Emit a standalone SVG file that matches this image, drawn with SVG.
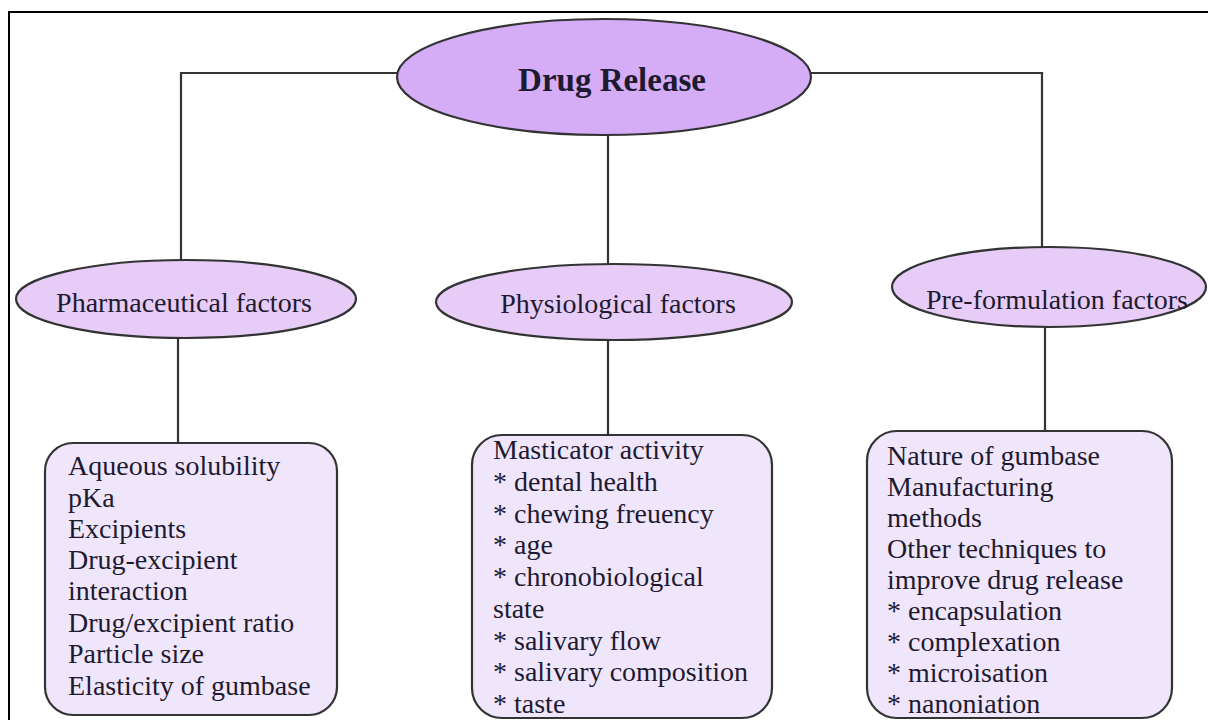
<svg xmlns="http://www.w3.org/2000/svg" width="1208" height="720" viewBox="0 0 1208 720">
<style>
.bg{fill:#ffffff}
.frame{fill:none;stroke:#000;stroke-width:2}
.conn{fill:none;stroke:#333;stroke-width:2.2}
.main{fill:#D5ADF7;stroke:#333;stroke-width:2.2}
.sub{fill:#E6CCF7;stroke:#333;stroke-width:2.2}
.box{fill:#F0E6FC;stroke:#333;stroke-width:2.2}
text{font-family:"Liberation Serif","Times New Roman",serif;fill:#1e1a30}
.t-main{font-size:33px;font-weight:bold;text-anchor:middle}
.t-sub{font-size:28px;text-anchor:middle}
.t-box{font-size:28px}
</style>
<rect class="bg" x="0" y="0" width="1208" height="720"/>
<path class="frame" d="M9,720 V12 H1208"/>
<g id="connectors">
<path class="conn" d="M181,260 V73 H397"/>
<path class="conn" d="M810,73 H1042 V248"/>
<path class="conn" d="M608,135 V264"/>
<path class="conn" d="M178,338 V443"/>
<path class="conn" d="M608,340 V435"/>
<path class="conn" d="M1045,327 V431"/>
</g>
<g id="drug-release">
<ellipse class="main" cx="604" cy="77" rx="207" ry="58"/>
<text class="t-main" x="612" y="91">Drug Release</text>
</g>
<g id="pharmaceutical-factors">
<ellipse class="sub" cx="186" cy="299" rx="170" ry="39"/>
<text class="t-sub" x="184" y="312">Pharmaceutical factors</text>
</g>
<g id="physiological-factors">
<ellipse class="sub" cx="614" cy="302" rx="178" ry="38"/>
<text class="t-sub" x="618" y="313">Physiological factors</text>
</g>
<g id="pre-formulation-factors">
<ellipse class="sub" cx="1049" cy="287" rx="157" ry="40"/>
<text class="t-sub" x="1057" y="309">Pre-formulation factors</text>
</g>
<g id="pharmaceutical-list">
<rect class="box" x="45" y="443" width="292" height="272" rx="28"/>
<text class="t-box" x="68" y="475">Aqueous solubility</text>
<text class="t-box" x="68" y="507">pKa</text>
<text class="t-box" x="68" y="538">Excipients</text>
<text class="t-box" x="68" y="569">Drug-excipient</text>
<text class="t-box" x="68" y="600">interaction</text>
<text class="t-box" x="68" y="632">Drug/excipient ratio</text>
<text class="t-box" x="68" y="663">Particle size</text>
<text class="t-box" x="68" y="695">Elasticity of gumbase</text>
</g>
<g id="physiological-list">
<rect class="box" x="472" y="435" width="300" height="283" rx="30"/>
<text class="t-box" x="493" y="459">Masticator activity</text>
<text class="t-box" x="493" y="491">* dental health</text>
<text class="t-box" x="493" y="523">* chewing freuency</text>
<text class="t-box" x="493" y="554">* age</text>
<text class="t-box" x="493" y="586">* chronobiological</text>
<text class="t-box" x="493" y="618">state</text>
<text class="t-box" x="493" y="650">* salivary flow</text>
<text class="t-box" x="493" y="681">* salivary composition</text>
<text class="t-box" x="493" y="713">* taste</text>
</g>
<g id="pre-formulation-list">
<rect class="box" x="867" y="431" width="305" height="287" rx="30"/>
<text class="t-box" x="887" y="465">Nature of gumbase</text>
<text class="t-box" x="887" y="496">Manufacturing</text>
<text class="t-box" x="887" y="527">methods</text>
<text class="t-box" x="887" y="558">Other techniques to</text>
<text class="t-box" x="887" y="589">improve drug release</text>
<text class="t-box" x="887" y="620">* encapsulation</text>
<text class="t-box" x="887" y="651">* complexation</text>
<text class="t-box" x="887" y="682">* microisation</text>
<text class="t-box" x="887" y="713">* nanoniation</text>
</g>
</svg>
